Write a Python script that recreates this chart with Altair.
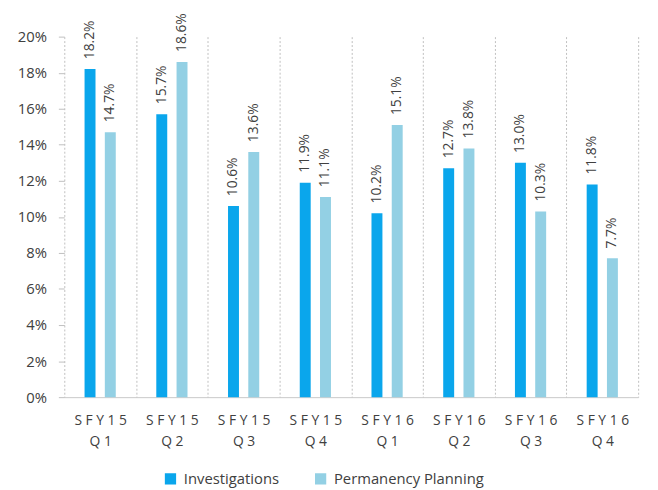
import altair as alt
import pandas as pd

categories = ["SFY15 Q1", "SFY15 Q2", "SFY15 Q3", "SFY15 Q4",
              "SFY16 Q1", "SFY16 Q2", "SFY16 Q3", "SFY16 Q4"]
investigations = [0.182, 0.157, 0.106, 0.119, 0.102, 0.127, 0.130, 0.118]
permanency = [0.147, 0.186, 0.136, 0.111, 0.151, 0.138, 0.103, 0.077]
series = ["Investigations", "Permanency Planning"]
colors = ["#0AA6EC", "#93D0E4"]
y_ticks = [0, 0.02, 0.04, 0.06, 0.08, 0.10, 0.12, 0.14, 0.16, 0.18, 0.20]


def spaced(cat):
    year, q = cat.split(" ")
    return " ".join(year) + "\n" + " ".join(q)


rows = []
for c, a, b in zip(categories, investigations, permanency):
    rows.append({"cat": spaced(c), "series": series[0], "value": a})
    rows.append({"cat": spaced(c), "series": series[1], "value": b})
df = pd.DataFrame(rows)
order = [spaced(c) for c in categories]

FONT = "Open Sans"
TXT = "#404040"

x = alt.X("cat:N", sort=order, title=None,
          scale=alt.Scale(paddingInner=0, paddingOuter=0),
          axis=alt.Axis(labelAngle=0, labelExpr="split(datum.label, '\\n')",
                        labelFontSize=14, labelColor=TXT, labelFont=FONT,
                        labelLineHeight=21, labelPadding=17, ticks=False,
                        tickBand="extent", grid=True, gridColor="#BFBFBF",
                        gridDash=[2, 2], gridWidth=1,
                        domainColor="#C8C8C8", domainWidth=1))
xo = alt.XOffset("series:N", sort=series,
                 scale=alt.Scale(paddingInner=0.46, paddingOuter=1))
y = alt.Y("value:Q", title=None,
          scale=alt.Scale(domain=[0, 0.2], nice=False),
          axis=alt.Axis(values=y_ticks, format=".0%", labelFontSize=15,
                        labelColor=TXT, labelFont=FONT, domain=False,
                        grid=False, tickColor="#BFBFBF", tickSize=6,
                        labelPadding=12))
color = alt.Color("series:N", sort=series,
                  scale=alt.Scale(domain=series, range=colors),
                  legend=alt.Legend(title=None, orient="none", direction="horizontal",
                                    legendX=100, legendY=440, symbolType="square",
                                    symbolSize=130, symbolStrokeWidth=0,
                                    labelFontSize=15, labelFont=FONT, labelColor=TXT,
                                    columnPadding=34, labelOffset=6))

base = alt.Chart(df)
bars = base.mark_bar().encode(x=x, xOffset=xo, y=y, color=color)
labels = base.mark_text(angle=270, align="left", baseline="middle", dx=10,
                        font=FONT, fontSize=14, color=TXT).encode(
    x=x, xOffset=xo, y=y, text=alt.Text("value:Q", format=".1%"))

chart = (bars + labels).properties(
    width=581, height=365,
    autosize=alt.AutoSizeParams(type="none"),
    padding={"left": 57, "top": 26, "right": 12, "bottom": 90},
).configure_view(stroke=None)

chart.save("out.html", embed_options={"renderer": "svg", "actions": False})
